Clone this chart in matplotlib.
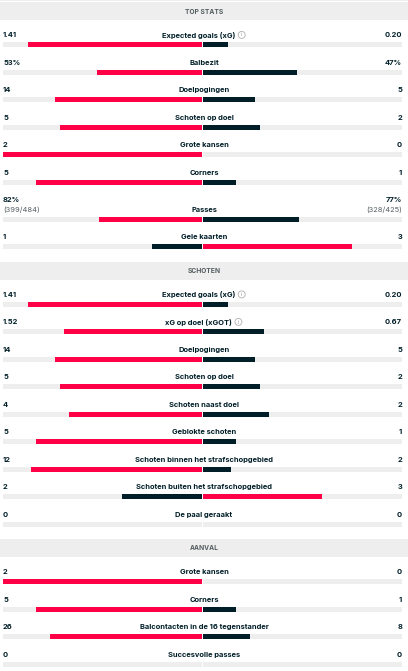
import matplotlib
matplotlib.use('Agg')
import matplotlib.pyplot as plt
from matplotlib.patches import Circle

# ---------------- data ----------------
section_titles = ['TOP STATS', 'SCHOTEN', 'AANVAL']

top_labels = ['Expected goals (xG)', 'Balbezit', 'Doelpogingen', 'Schoten op doel',
              'Grote kansen', 'Corners', 'Passes', 'Gele kaarten']
top_home = [1.41, 53, 14, 5, 2, 5, 82, 1]
top_away = [0.20, 47, 5, 2, 0, 1, 77, 3]
top_home_txt = ['1.41', '53%', '14', '5', '2', '5', '82%', '1']
top_away_txt = ['0.20', '47%', '5', '2', '0', '1', '77%', '3']
top_home_sub = ['', '', '', '', '', '', '(399/484)', '']
top_away_sub = ['', '', '', '', '', '', '(328/425)', '']
top_info = [True, False, False, False, False, False, False, False]

sch_labels = ['Expected goals (xG)', 'xG op doel (xGOT)', 'Doelpogingen', 'Schoten op doel',
              'Schoten naast doel', 'Geblokte schoten', 'Schoten binnen het strafschopgebied',
              'Schoten buiten het strafschopgebied', 'De paal geraakt']
sch_home = [1.41, 1.52, 14, 5, 4, 5, 12, 2, 0]
sch_away = [0.20, 0.67, 5, 2, 2, 1, 2, 3, 0]
sch_home_txt = ['1.41', '1.52', '14', '5', '4', '5', '12', '2', '0']
sch_away_txt = ['0.20', '0.67', '5', '2', '2', '1', '2', '3', '0']
sch_info = [True, True, False, False, False, False, False, False, False]

aan_labels = ['Grote kansen', 'Corners', 'Balcontacten in de 16 tegenstander', 'Succesvolle passes']
aan_home = [2, 5, 26, 0]
aan_away = [0, 1, 8, 0]
aan_home_txt = ['2', '5', '26', '0']
aan_away_txt = ['0', '1', '8', '0']

# ---------------- style ----------------
RED = '#ff0046'
DARK = '#001e28'
TRACK = '#eeeeee'
BAND = '#eeeeee'
TXT = '#001e28'
SUBTXT = '#555e61'
HDRTXT = '#555e61'
FONT = ['Inter', 'DejaVu Sans']
FS = 5.4
W, H = 408, 671

fig = plt.figure(figsize=(W / 100, H / 100), dpi=100)
ax = fig.add_axes([0, 0, 1, 1])
ax.set_xlim(0, W)
ax.set_ylim(H, 0)
ax.axis('off')

XL, XC_L, XC_R, XR = 3, 202, 203, 402
HALF = XC_L - XL
BAR_H = 5

renderer = fig.canvas.get_renderer()


def px_width(t):
    bb = t.get_window_extent(renderer=renderer)
    return bb.width


ax.barh(0.6, W, left=0, height=1.2, color=BAND, linewidth=0)


def section(y, title, labels, home, away, htxt, atxt, hsub=None, asub=None, info=None):
    n = len(labels)
    hsub = hsub or [''] * n
    asub = asub or [''] * n
    info = info or [False] * n
    ax.barh(y + 9, W, left=0, height=18, color=BAND, linewidth=0)
    ax.text(W / 2, y + 9.5, title, ha='center', va='center', fontsize=4.8,
            fontweight='bold', color=HDRTXT, family=FONT)
    bar_top = y + 40
    for i in range(n):
        if hsub[i] or asub[i]:
            bar_top += 9.5
        yc = bar_top + BAR_H / 2
        ty = bar_top - 6.6
        ax.barh(yc, HALF, left=XL, height=BAR_H, color=TRACK, linewidth=0)
        ax.barh(yc, HALF, left=XC_R, height=BAR_H, color=TRACK, linewidth=0)
        h, a = home[i], away[i]
        tot = h + a
        if tot > 0:
            hw = HALF * h / tot
            aw = HALF * a / tot
            hc = RED if h >= a else DARK
            ac = RED if a > h else DARK
            if hw > 0:
                ax.barh(yc, hw, left=XC_L - hw, height=BAR_H, color=hc, linewidth=0)
            if aw > 0:
                ax.barh(yc, aw, left=XC_R, height=BAR_H, color=ac, linewidth=0)
        vy = ty - 10 if (hsub[i] or asub[i]) else ty
        ax.text(XL, vy, htxt[i], ha='left', va='center', fontsize=FS, fontweight='bold',
                color=TXT, family=FONT)
        ax.text(XR, vy, atxt[i], ha='right', va='center', fontsize=FS, fontweight='bold',
                color=TXT, family=FONT)
        if hsub[i]:
            ax.text(XL, ty, hsub[i], ha='left', va='center', fontsize=FS, color=SUBTXT, family=FONT)
        if asub[i]:
            ax.text(XR, ty, asub[i], ha='right', va='center', fontsize=FS, color=SUBTXT, family=FONT)
        lab = ax.text(W / 2, ty, labels[i], ha='center', va='center', fontsize=FS,
                      fontweight='bold', color=TXT, family=FONT)
        if info[i]:
            w = px_width(lab)
            total = w + 11
            x0 = W / 2 - total / 2
            lab.set_x(x0)
            lab.set_ha('left')
            cx = x0 + w + 6.5
            ax.add_patch(Circle((cx, ty - 0.5), 3.5, facecolor='none', edgecolor='#b0b0b0', lw=0.6))
            ax.text(cx, ty - 0.4, 'i', ha='center', va='center', fontsize=3.9, color='#a0a0a0',
                    family=FONT)
        last = bar_top
        bar_top += 27.5
    return last + 17.5


y = 2
y = section(y, section_titles[0], top_labels, top_home, top_away, top_home_txt, top_away_txt,
            top_home_sub, top_away_sub, top_info)
y = section(y, section_titles[1], sch_labels, sch_home, sch_away, sch_home_txt, sch_away_txt,
            info=sch_info)
y = section(y, section_titles[2], aan_labels, aan_home, aan_away, aan_home_txt, aan_away_txt)

fig.savefig('out.png', dpi=100, facecolor='white')
